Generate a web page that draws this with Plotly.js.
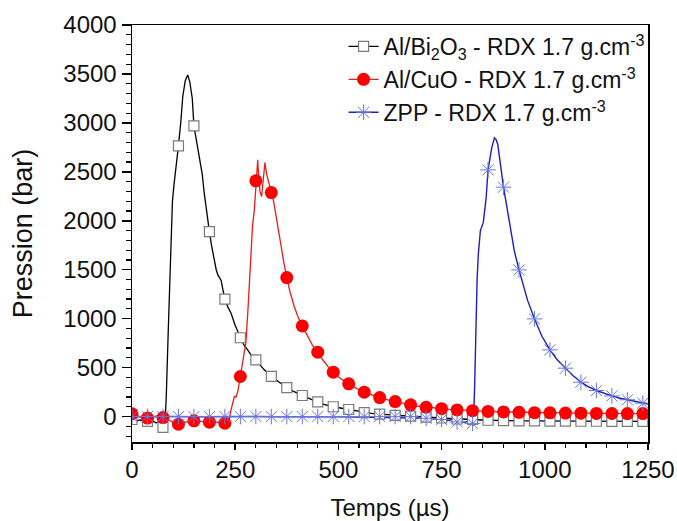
<!DOCTYPE html>
<html>
<head>
<meta charset="utf-8">
<script src="https://cdn.plot.ly/plotly-3.0.1.min.js"></script>
<style>html,body{margin:0;padding:0;background:#fff;}#chart{width:677px;height:521px;}</style>
</head>
<body>
<div id="chart"></div>
<script>
// ---- Data ----
const seriesNames = [
  "Al/Bi<sub>2</sub>O<sub>3</sub> - RDX 1.7 g.cm<sup>-3</sup>",
  "Al/CuO - RDX 1.7 g.cm<sup>-3</sup>",
  "ZPP - RDX 1.7 g.cm<sup>-3</sup>"
];

// Al/Bi2O3 pressure trace
const biTime = [0,10,20,30,40,50,58,65,72,76,80,83,88,93,98,102,107,112.5,118,123,129,135,140,146,150,156,163,170,175,181,187.5,193,199,204,208,212,216,220,225,232,240,250,262.5,270,280,290,300,310,320,337.5,350,362,375,390,400,412.5,425,437,450,465,487.5,500,525,545,562.5,580,600,620,637.5,655,675,690,712.5,730,750,770,787.5,805,825,850,875,900,937.5,975,1012.5,1050,1087.5,1125,1162.5,1200,1250];
const biP = [-30,-45,-35,-55,-50,-45,-65,-55,-95,-110,-60,200,900,1600,2200,2380,2550,2765,3000,3270,3430,3490,3420,3250,2970,2820,2656,2480,2282,2080,1890,1740,1600,1500,1447,1420,1390,1300,1200,1120,1056,930,805,740,680,620,578,530,480,410,370,330,295,260,240,215,190,170,150,125,100,90,72,55,40,32,24,18,12,10,5,0,-5,-10,-15,-20,-25,-28,-30,-35,-40,-42,-44,-45,-46,-47,-48,-48,-50,-50,-50];

// Al/CuO pressure trace
const cuTime = [0,10,20,37.5,50,60,75,85,95,112.5,125,137,150,165,175,187.5,200,212,225,232,236,240,245,248,252,256,262.5,270,276,281,285,288.4,292,296.4,300.5,304.5,307,310,314,318,322,326,332.7,337.5,343,349,355,361,368,375,383,393,402,412.5,425,437,450,462,475,487.5,500,512,525,545,562.5,580,600,620,637.5,655,675,695,712.5,730,750,770,787.5,805,825,845,862.5,900,937.5,975,1012.5,1050,1087.5,1125,1162.5,1200,1250];
const cuP = [28,10,-5,-16,0,5,-10,-20,-50,-78,-60,-50,-44,-50,-55,-57,-55,-60,-68,-60,-20,68,150,204,200,250,409,600,760,1100,1450,1730,1950,2111,2408,2622,2450,2300,2247,2450,2594,2480,2349,2288,2200,2043,1900,1736,1570,1420,1270,1124,1020,926,820,730,658,580,510,453,405,368,334,285,249,220,194,170,153,135,120,105,95,87,80,73,68,64,60,55,52,47,43,40,38,36,34,32,31,30,30];

// ZPP pressure trace
const zppTime = [0,50,100,150,200,250,300,350,400,450,500,550,600,640,680,712.5,730,750,765,775,787.5,795,805,812,818,822,827,830,833.4,836,839,844,851,858,862.5,867,871.5,878,882,886,890,894,900,907,914,920,926,937.5,948,958.5,975,993,1012.5,1030,1050,1068,1087.5,1105,1125,1145,1162.5,1180,1200,1220,1237.5,1250];
const zppP = [0,2,0,-2,0,2,0,-2,0,0,-3,-5,-8,-10,-15,-18,-25,-30,-40,-30,-55,-45,-60,-50,-75,-60,-92,300,980,1400,1660,1900,1983,2238,2520,2650,2748,2847,2830,2782,2650,2510,2343,2170,2000,1850,1694,1498,1330,1184,998,820,681,580,494,420,351,305,266,235,211,190,171,152,137,128];

// Symbol positions (every 37.5 µs)
const markTime = [0,37.5,75,112.5,150,187.5,225,262.5,300,337.5,375,412.5,450,487.5,525,562.5,600,637.5,675,712.5,750,787.5,825,862.5,900,937.5,975,1012.5,1050,1087.5,1125,1162.5,1200,1237.5];
const biMark = [-30,-50,-110,2765,2970,1890,1200,805,578,410,295,215,150,100,72,40,24,12,5,-5,-15,-25,-30,-38,-42,-44,-45,-46,-47,-48,-48,-50,-50,-50];
const cuMark = [28,-16,-10,-78,-44,-57,-68,409,2408,2288,1420,926,658,453,334,249,194,153,120,95,80,68,60,52,47,43,40,38,36,34,32,31,30,30];
const zppMark = [0,0,0,0,0,0,0,0,0,0,0,0,0,0,0,0,0,0,0,-18,-30,-55,-70,2520,2343,1498,998,681,494,351,266,211,171,137];

// Tick labels
const xTicks = [0,250,500,750,1000,1250];
const yTicks = [0,500,1000,1500,2000,2500,3000,3500,4000];

// ---- Styles ----
const FONT = "Liberation Sans, Arial, sans-serif";
const styles = [
  {line:{color:"#000000", width:1.3}, marker:{symbol:"square", size:10, color:"#ffffff", line:{color:"#7a7a7a", width:1.2}}},
  {line:{color:"#ee1c1c", width:1.3}, marker:{symbol:"circle", size:13, color:"#ff0000", line:{width:0}}},
  {line:{color:"#1c1cc8", width:1.4}, marker:{symbol:"asterisk-open", size:13, color:"#6878e0", line:{color:"#6878e0", width:1}}}
];

const lineData = [[biTime,biP],[cuTime,cuP],[zppTime,zppP]];
const markData = [biMark,cuMark,zppMark];

const traces = [];
for (let i=0;i<3;i++){
  traces.push({x:lineData[i][0], y:lineData[i][1], mode:"lines", type:"scatter",
    line:styles[i].line, showlegend:false, hoverinfo:"skip", legendgroup:"g"+i});
}
for (let i=0;i<3;i++){
  traces.push({x:markTime, y:markData[i], mode:"markers", type:"scatter",
    marker:styles[i].marker, showlegend:false, hoverinfo:"skip", legendgroup:"g"+i});
}
for (let i=0;i<3;i++){
  traces.push({x:[null], y:[null], mode:"lines+markers", type:"scatter", name:seriesNames[i],
    line:styles[i].line, marker:styles[i].marker, showlegend:true, legendgroup:"g"+i});
}

const layout = {
  width:677, height:521,
  margin:{l:132, r:29, t:25, b:79},
  paper_bgcolor:"#ffffff", plot_bgcolor:"#ffffff",
  font:{family:FONT, size:22, color:"#111111"},
  showlegend:true,
  legend:{x:0.41, y:1, xanchor:"left", yanchor:"top", bgcolor:"rgba(255,255,255,0)",
    font:{family:FONT, size:23, color:"#111111"}, tracegroupgap:0, traceorder:"normal"},
  xaxis:{range:[0,1250], tickvals:xTicks, ticktext:xTicks.map(String),
    ticks:"outside", ticklen:6, tickwidth:1.5, tickcolor:"#000",
    minor:{dtick:50, tick0:0, ticks:"outside", ticklen:4, tickwidth:1.2, tickcolor:"#000", showgrid:false},
    showline:true, linecolor:"#000", linewidth:1.5, mirror:true,
    showgrid:false, zeroline:false,
    tickfont:{family:FONT, size:24, color:"#111"},
    title:{text:"Temps (µs)", font:{family:FONT, size:24, color:"#111"}, standoff:22}},
  yaxis:{range:[-260,4000], tickvals:yTicks, ticktext:yTicks.map(String),
    ticks:"outside", ticklen:9, tickwidth:1.5, tickcolor:"#000",
    minor:{dtick:100, tick0:0, ticks:"outside", ticklen:5, tickwidth:1.2, tickcolor:"#000", showgrid:false},
    showline:true, linecolor:"#000", linewidth:1.5, mirror:true,
    showgrid:false, zeroline:false,
    tickfont:{family:FONT, size:24, color:"#111"},
    title:{text:"Pression (bar)", font:{family:FONT, size:27, color:"#111"}, standoff:23}}
};

Plotly.newPlot("chart", traces, layout, {displayModeBar:false, staticPlot:true});
</script>
</body>
</html>
